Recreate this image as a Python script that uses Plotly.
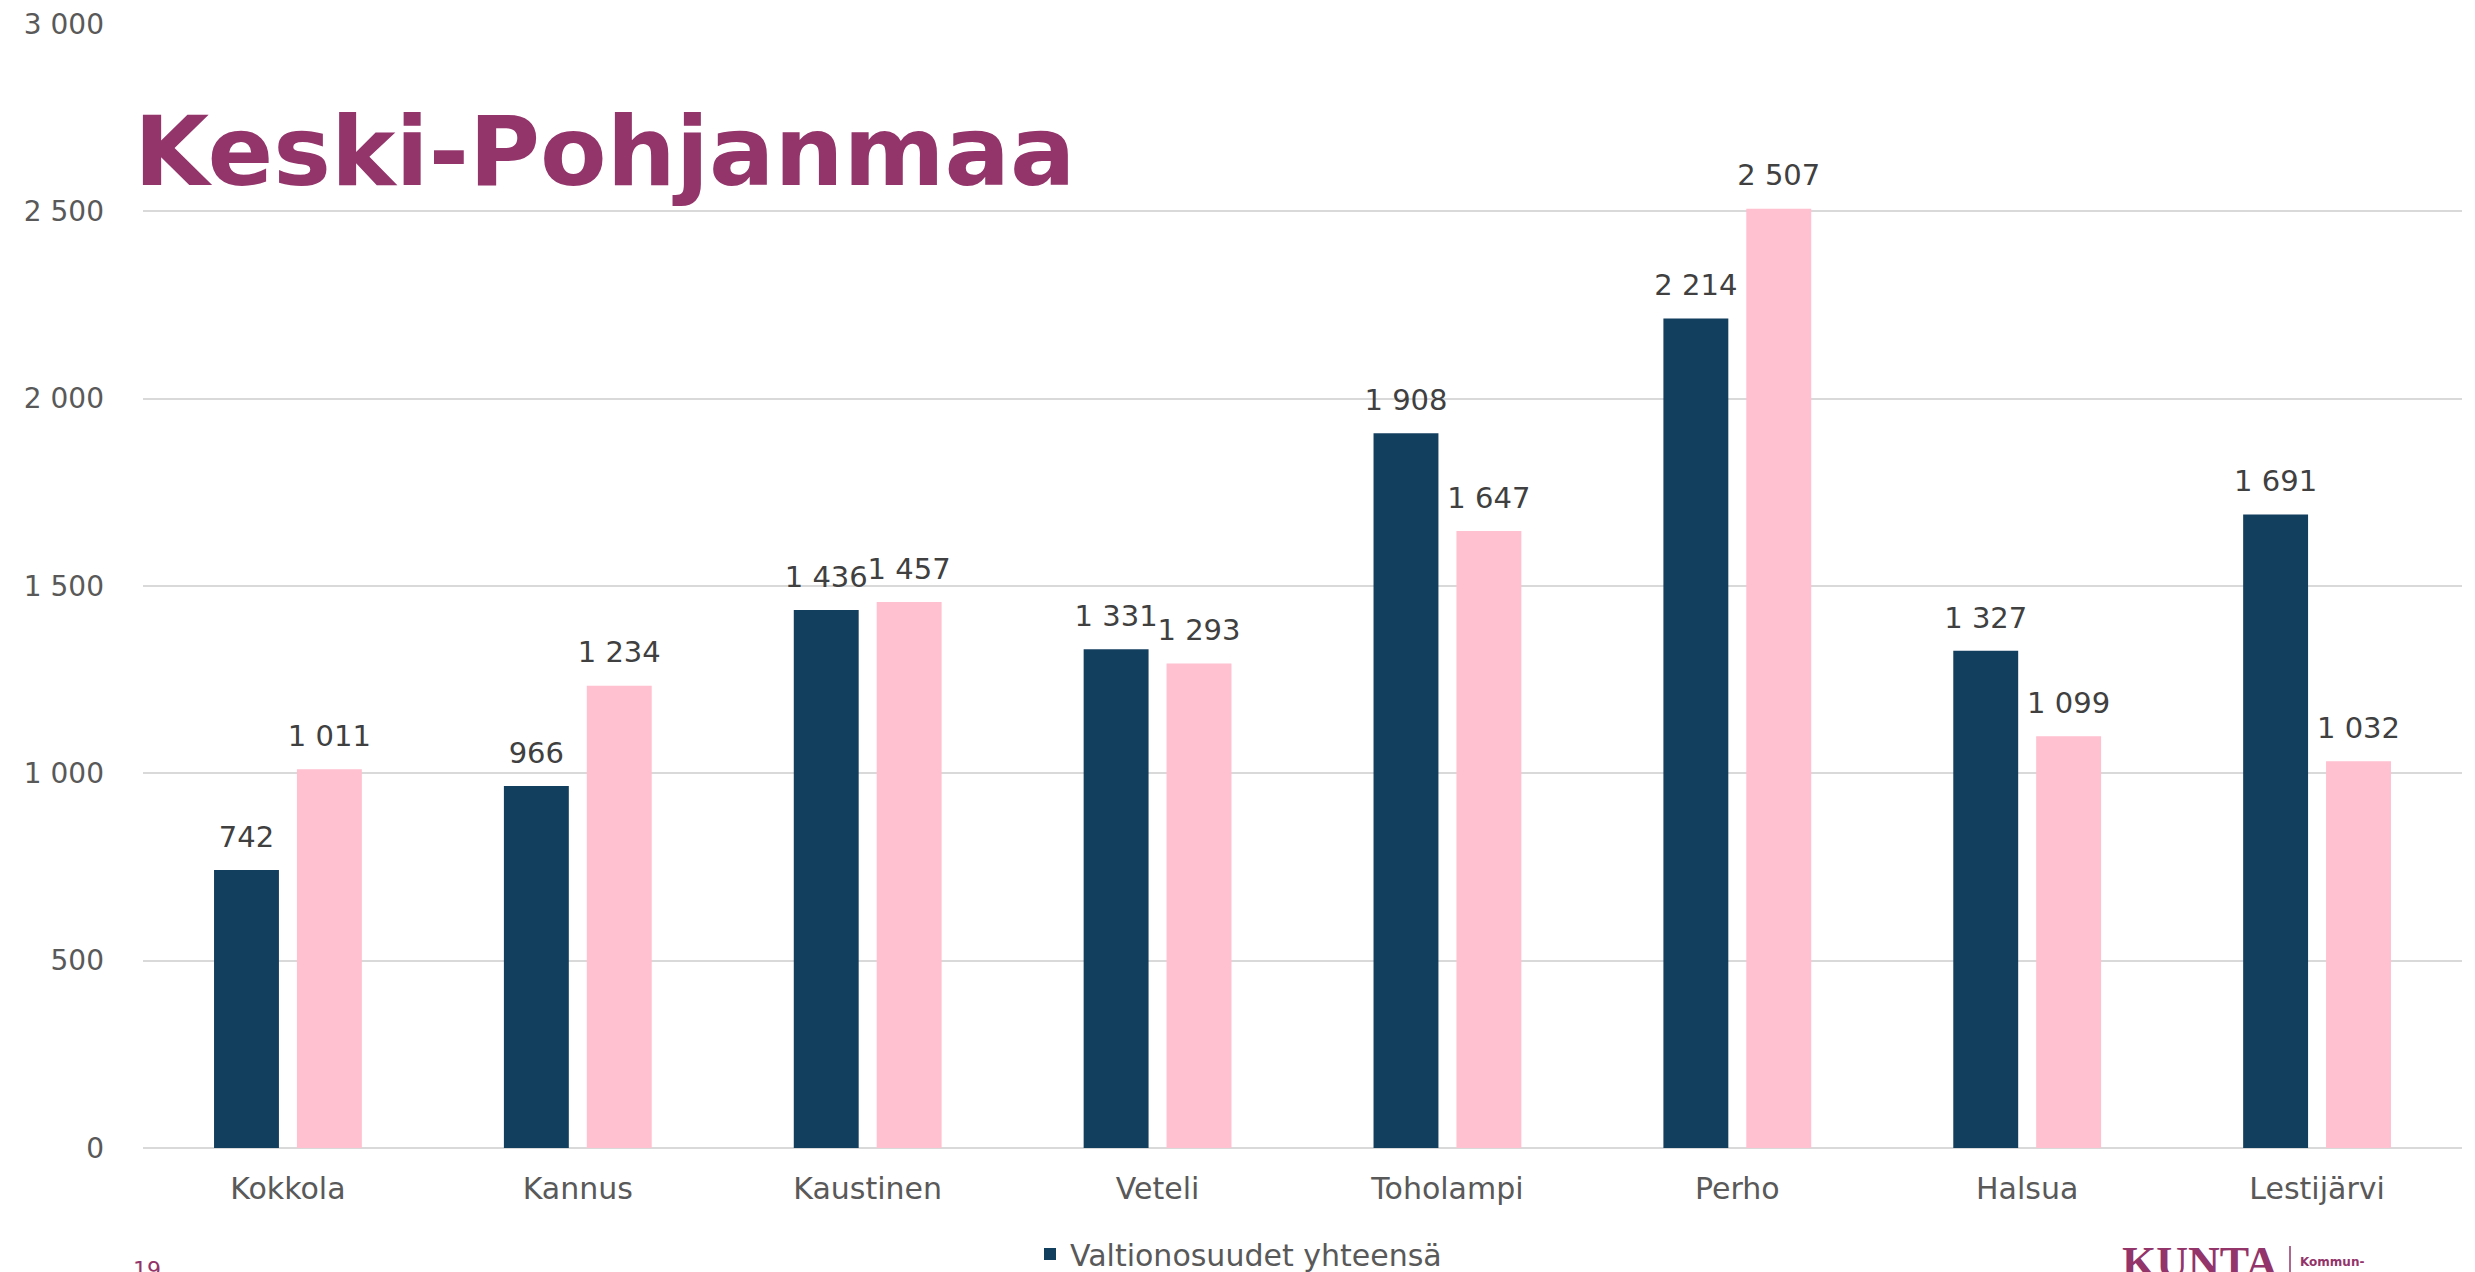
import plotly.graph_objects as go

categories = ["Kokkola", "Kannus", "Kaustinen", "Veteli", "Toholampi", "Perho", "Halsua", "Lestijärvi"]
valtionosuudet = [742, 966, 1436, 1331, 1908, 2214, 1327, 1691]
second_series = [1011, 1234, 1457, 1293, 1647, 2507, 1099, 1032]
y_ticks = [0, 500, 1000, 1500, 2000, 2500, 3000]

DARK = "#133F5F"
PINK = "#FFC0CF"
PLUM = "#93346A"
GREY = "#595959"
LABEL = "#404040"
FONT = "DejaVu Sans"

fig = go.Figure()
fig.add_trace(go.Bar(
    x=categories, y=valtionosuudet, name="Valtionosuudet yhteensä",
    marker=dict(color=DARK, line=dict(width=0)),
    offsetgroup="a", showlegend=True, hoverinfo="x+y",
))
fig.add_trace(go.Bar(
    x=categories, y=second_series, name="",
    marker=dict(color=PINK, line=dict(width=0)),
    offsetgroup="b", showlegend=False, hoverinfo="x+y",
))
# data labels, grouped like the bars
for vals, grp in ((valtionosuudet, "a"), (second_series, "b")):
    fig.add_trace(go.Scatter(
        x=categories, y=vals, mode="markers+text",
        marker=dict(size=24, color="rgba(0,0,0,0)"),
        texttemplate="%{y:,d}", textposition="top center",
        textfont=dict(family=FONT, size=29, color=LABEL),
        offsetgroup=grp, showlegend=False, hoverinfo="skip", cliponaxis=False,
    ))

W, H = 2475, 1272
L, R, T, B = 143, 13, 24, 124
PW, PH = W - L - R, H - T - B


def px(x):
    return (x - L) / PW


def py(y):
    return (H - B - y) / PH


fig.update_layout(
    width=W, height=H,
    margin=dict(l=L, r=R, t=T, b=B, autoexpand=False),
    paper_bgcolor="white", plot_bgcolor="white",
    separators=", ",
    barmode="group", bargap=0.428, bargroupgap=0.217,
    scattermode="group", scattergap=0.428,
    font=dict(family=FONT, color=GREY),
    xaxis=dict(
        showgrid=False, showline=False, zeroline=False, ticks="",
        tickfont=dict(family=FONT, size=30, color=GREY),
        ticklabelstandoff=20,
    ),
    yaxis=dict(
        range=[0, 3000], tickvals=y_ticks, separatethousands=True,
        tickformat=",d",
        showgrid=True, gridcolor="#D9D9D9", gridwidth=2,
        zeroline=True, zerolinecolor="#D9D9D9", zerolinewidth=2,
        showline=False, ticks="",
        tickfont=dict(family=FONT, size=28, color=GREY),
        ticklabelstandoff=38,
    ),
    legend=dict(
        orientation="h", x=px(1030), xanchor="left", y=py(1254), yanchor="middle",
        font=dict(family=FONT, size=30, color=GREY),
        bgcolor="rgba(0,0,0,0)",
    ),
    annotations=[
        dict(text="<b>Keski-Pohjanmaa</b>", xref="paper", yref="paper",
             x=px(132), y=py(151), xanchor="left", yanchor="middle",
             showarrow=False,
             font=dict(family="DejaVu Sans", size=97, color=PLUM)),
        dict(text="19", xref="paper", yref="paper", x=px(131), y=py(1255),
             xanchor="left", yanchor="top", showarrow=False,
             font=dict(family=FONT, size=22, color=PLUM)),
        dict(text="<b>KUNTA</b>", xref="paper", yref="paper", x=px(2120), y=py(1236),
             xanchor="left", yanchor="top", showarrow=False,
             font=dict(family="Liberation Serif", size=44, color=PLUM)),
        dict(text="<b>Kommun-</b>", xref="paper", yref="paper", x=px(2298), y=py(1262),
             xanchor="left", yanchor="middle", showarrow=False,
             font=dict(family=FONT, size=12, color=PLUM)),
    ],
    shapes=[
        dict(type="line", xref="paper", yref="paper", x0=px(2290), x1=px(2290),
             y0=py(1246), y1=py(1275), line=dict(color=PLUM, width=1.5)),
    ],
)

fig.write_html("out.html", config={"displayModeBar": False},
               post_script="document.body.style.margin='0';")
